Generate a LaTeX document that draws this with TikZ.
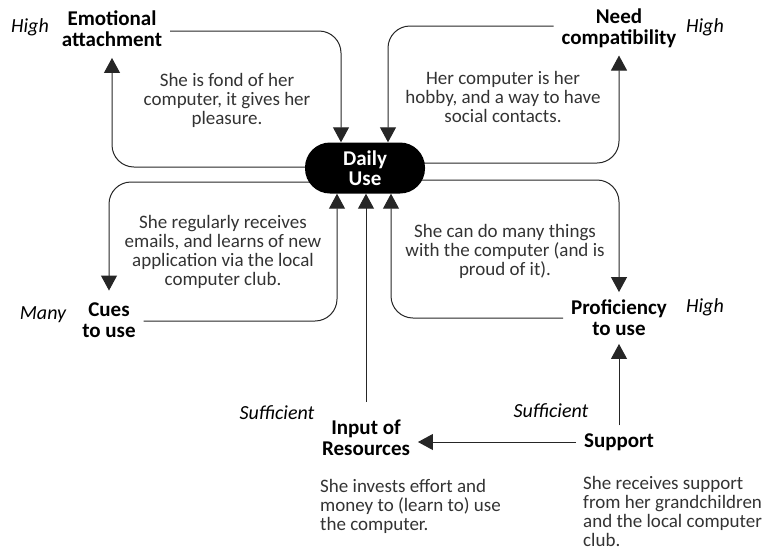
\documentclass[tikz,border=0pt]{standalone}
\usepackage{fontspec}
\setmainfont{Carlito}
\usetikzlibrary{arrows.meta,backgrounds}
\begin{document}
\begin{tikzpicture}[x=1pt,y=-1pt,
  lbl/.style={font=\fontsize{21}{21}\selectfont\bfseries, align=center, inner sep=0pt, outer sep=8pt},
  lvl/.style={font=\fontsize{20}{20}\selectfont\itshape, inner sep=0pt},
  desc/.style={font=\fontsize{19}{19}\selectfont, text=black!80, inner sep=0pt},
  hub/.style={fill=black, rounded corners=25pt, minimum width=120pt, minimum height=51pt,
    inner sep=0pt, text=white, font=\fontsize{21}{20}\selectfont\bfseries, align=center},
  conn/.style={draw=black!85, line width=1pt, rounded corners=22pt,
    -{Triangle[width=16pt,length=15pt]}},
]
\useasboundingbox (0,0) rectangle (779,550);

% central node
\node[hub] (du) at (365,168) {Daily\\Use};

% factors
\node[lbl] (ea) at (112,29) {Emotional\\attachment};
\node[lbl] (nc) at (619,28) {Need\\compatibility};
\node[lbl] (cu) at (109,320) {Cues\\to use};
\node[lbl] (pu) at (619,318) {Proficiency\\to use};
\node[lbl] (ir) at (366,438) {Input of\\Resources};
\node[lbl] (su) at (619,442) {Support};

% levels
\node[lvl] (lea) at (30,27) {High};
\node[lvl] (lnc) at (705,27) {High};
\node[lvl] (lcu) at (43,315) {Many};
\node[lvl] (lpu) at (705,307) {High};
\node[lvl] (lir) at (277,413) {Sufficient};
\node[lvl] (lsu) at (551,411) {Sufficient};

% explanations
\node[desc, align=center] (dea) at (227,100) {She is fond of her\\computer, it gives her\\pleasure.};
\node[desc, align=center] (dnc) at (503,97) {Her computer is her\\hobby, and a way to have\\social contacts.};
\node[desc, align=center] (dcu) at (223,252) {She regularly receives\\emails, and learns of new\\application via the local\\computer club.};
\node[desc, align=center] (dpu) at (505,251) {She can do many things\\with the computer (and is\\proud of it).};
\node[desc, align=left, anchor=west] (dir) at (320,506) {She invests effort and\\money to (learn to) use\\the computer.};
\node[desc, align=left, anchor=west] (dsu) at (583,511) {She receives support\\from her grandchildren\\and the local computer\\club.};

% feedback loops
\begin{scope}[on background layer]
  \draw[conn] ([yshift=-2pt]ea.east) -| ([xshift=-24pt]du.north);
  \draw[conn, shorten >=3pt] ([yshift=1pt]du.center) -| (ea.south);
  \draw[conn] ([yshift=2pt]nc.west) -| ([xshift=23pt]du.north);
  \draw[conn] ([yshift=5pt]du.center) -| (nc.south);
  \draw[conn, shorten >=4pt] ([yshift=-14pt]du.center) -| (cu.north);
  \draw[conn] ([yshift=-1pt]cu.east) -| ([xshift=-28pt]du.south);
  \draw[conn, shorten <=10pt] (ir.north) -- (ir.north |- du.south);
  \draw[conn] ([yshift=-12pt]du.center) -| (pu.north);
  \draw[conn] (pu.west) -| ([xshift=26pt]du.south);
  \draw[conn] (su.north) -- (pu.south);
  \draw[conn] (su.west) -- (su.west -| ir.east);
\end{scope}
\end{tikzpicture}
\end{document}
